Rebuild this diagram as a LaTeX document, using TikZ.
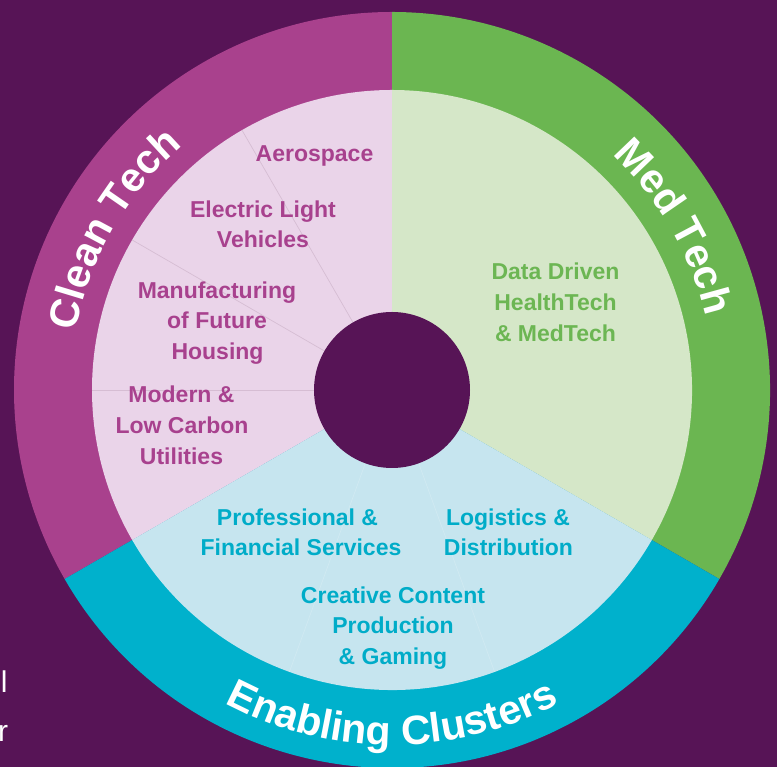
\documentclass[tikz,border=0pt]{standalone}
\usepackage{fontspec}
\setmainfont{Liberation Sans}
\usetikzlibrary{decorations.text}
\definecolor{bgP}{HTML}{571456}
\definecolor{cleanC}{HTML}{A9418D}
\definecolor{medC}{HTML}{6BB651}
\definecolor{enC}{HTML}{00B1CC}
\definecolor{cleanL}{HTML}{EAD4E9}
\definecolor{medL}{HTML}{D5E7C8}
\definecolor{enL}{HTML}{C6E5EF}
\definecolor{cleanT}{HTML}{A8418E}
\definecolor{medT}{HTML}{6CB653}
\definecolor{enT}{HTML}{00ACC8}
\definecolor{divP}{HTML}{D6BDD3}
\newcommand\curvefont{\fontsize{41}{41}\selectfont\bfseries}
\tikzset{
  lab/.style={font=\fontsize{23}{23}\selectfont\bfseries, inner sep=0pt, anchor=base},
  cleanlab/.style={lab, text=cleanT},
  medlab/.style={lab, text=medT},
  enlab/.style={lab, text=enT},
  sidetxt/.style={font=\fontsize{30}{30}\selectfont, text=white, inner sep=0pt, anchor=base west},
  curved/.style={decorate, decoration={text along path, text={|\curvefont|#1}, text align=center, text color=white}}
}
\begin{document}
\begin{tikzpicture}[x=1pt,y=1pt]
\useasboundingbox (0,0) rectangle (777,767);
\fill[bgP] (0,0) rectangle (777,767);
\begin{scope}
\clip (0,0) rectangle (777,767);
\coordinate (C) at (392,377);
% outer ring sectors
\fill[cleanC] (C) -- ([shift={(90:378)}]C) arc[start angle=90,end angle=210,radius=378] -- cycle;
\fill[medC] (C) -- ([shift={(-30:378)}]C) arc[start angle=-30,end angle=90,radius=378] -- cycle;
\fill[enC] (C) -- ([shift={(210:378)}]C) arc[start angle=210,end angle=330,radius=378] -- cycle;
% inner light sectors
\fill[cleanL] (C) -- ([shift={(90:300)}]C) arc[start angle=90,end angle=210,radius=300] -- cycle;
\fill[medL] (C) -- ([shift={(-30:300)}]C) arc[start angle=-30,end angle=90,radius=300] -- cycle;
\fill[enL] (C) -- ([shift={(210:300)}]C) arc[start angle=210,end angle=330,radius=300] -- cycle;
% dividers
\foreach \a in {120,150,180}{
  \draw[divP, line width=0.7pt] ([shift={(\a:78)}]C) -- ([shift={(\a:300)}]C);
}
\foreach \a in {250,290}{
  \draw[white, opacity=0.18, line width=0.7pt] ([shift={(\a:78)}]C) -- ([shift={(\a:300)}]C);
}
% centre hole
\fill[bgP] (C) circle[radius=78];
% curved titles
\path[curved={Clean Tech}] ([shift={(180:322)}]C) arc[start angle=180,end angle=120,radius=322];
\path[curved={Med Tech}] ([shift={(60:322)}]C) arc[start angle=60,end angle=0,radius=322];
\path[curved={Enabling Clusters}] ([shift={(235:355)}]C) arc[start angle=235,end angle=305,radius=355];
\end{scope}
% Clean Tech labels
\node[cleanlab] (aero) at (314.5,605) {Aerospace};
\node[cleanlab] (elv1) at (263,549) {Electric Light};
\node[cleanlab] (elv2) at (263,519) {Vehicles};
\node[cleanlab] (mfh1) at (217,468) {Manufacturing};
\node[cleanlab] (mfh2) at (217,438) {of Future};
\node[cleanlab] (mfh3) at (217.5,407) {Housing};
\node[cleanlab] (mlc1) at (181.5,364) {Modern \&};
\node[cleanlab] (mlc2) at (182,333) {Low Carbon};
\node[cleanlab] (mlc3) at (181.5,302) {Utilities};
% Med Tech labels
\node[medlab] (dd1) at (555.5,487) {Data Driven};
\node[medlab] (dd2) at (555.5,456) {HealthTech};
\node[medlab] (dd3) at (555.5,425) {\& MedTech};
% Enabling labels
\node[enlab] (pf1) at (297.5,241) {Professional \&};
\node[enlab] (pf2) at (301,211) {Financial Services};
\node[enlab] (ld1) at (508,241) {Logistics \&};
\node[enlab] (ld2) at (508.5,211) {Distribution};
\node[enlab] (cc1) at (393,163) {Creative Content};
\node[enlab] (cc2) at (393,133) {Production};
\node[enlab] (cc3) at (393,102) {\& Gaming};
% cut-off side text
\node[sidetxt] (sideL) at (0.7,74) {l};
\node[sidetxt] (sideR) at (-2,25) {r};
\end{tikzpicture}
\end{document}
